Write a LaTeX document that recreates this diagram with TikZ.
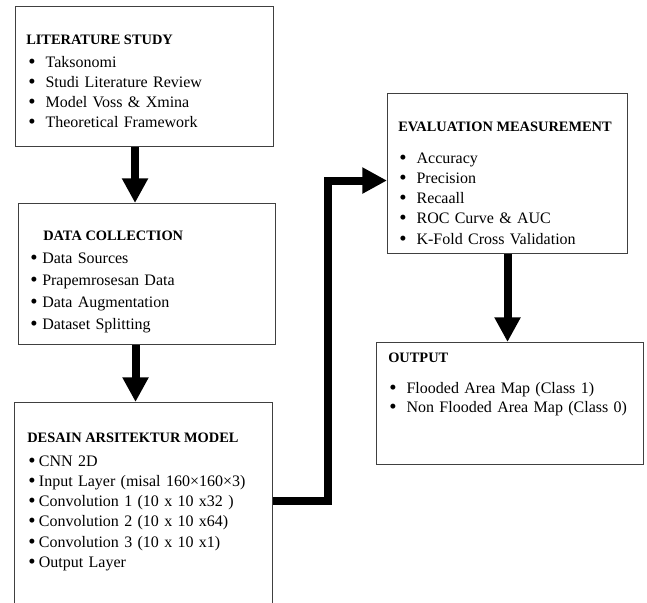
\documentclass[tikz,border=0pt]{standalone}
\usepackage{fontspec}
\setmainfont{Liberation Serif}
\usepackage{tikz}
\usetikzlibrary{positioning,calc,arrows.meta}
\newdimen\pxu \pxu=0.75pt
\newcommand{\bul}[1][13pt]{\makebox[#1][l]{\raisebox{-0.8pt}{\scalebox{1.3}{\textbullet}}}}

\begin{document}
\begin{tikzpicture}[x=0.75pt, y=-0.75pt, >={Triangle[length=18.5pt,width=18.5pt]},
  box/.style={draw=black!75, line width=0.8pt, rectangle, anchor=north west, inner sep=0pt},
  ttl/.style={anchor=base west, inner sep=0pt, font=\fontsize{10.8}{13}\selectfont\bfseries},
  lst/.style={anchor=base west, inner sep=0pt, text width=220pt, align=left, font=\fontsize{12}{15.2}\selectfont},
  flow/.style={->, line width=6pt, line join=miter}]
  \useasboundingbox (0,0) rectangle (647,603);
  \clip (0,0) rectangle (647,603);

  % frames
  \node[box, minimum width=258\pxu, minimum height=140\pxu] (litbox) at (15,6) {};
  \node[box, minimum width=257\pxu, minimum height=141\pxu] (databox) at (18,203) {};
  \node[box, minimum width=258\pxu, minimum height=212\pxu] (archbox) at (14,402) {};
  \node[box, minimum width=240\pxu, minimum height=160\pxu] (evalbox) at (387,93) {};
  \node[box, minimum width=267\pxu, minimum height=122\pxu] (outbox) at (376,342) {};

  % texts
  \node[ttl] (littitle) at ($(litbox.north west)+(11,39)$) {LITERATURE STUDY};
  \node[lst] (littext) at ($(litbox.north west)+(13,61)$) {\bul Taksonomi\\ \bul Studi Literature Review\\ \bul Model Voss \& Xmina\\ \bul Theoretical Framework};

  \node[ttl] (datatitle) at ($(databox.north west)+(25,37)$) {DATA COLLECTION};
  \node[lst, font=\fontsize{12}{16.5}\selectfont] (datatext) at ($(databox.north west)+(12,60)$) {\bul[9pt]Data Sources\\ \bul[9pt]Prapemrosesan Data\\ \bul[9pt]Data Augmentation\\ \bul[9pt]Dataset Splitting};

  \node[ttl] (archtitle) at ($(archbox.north west)+(13,40)$) {DESAIN ARSITEKTUR MODEL};
  \node[lst] (archtext) at ($(archbox.north west)+(14,64)$) {\bul[8pt]CNN 2D\\ \bul[8pt]Input Layer (misal 160×160×3)\\ \bul[8pt]Convolution 1 (10 x 10 x32 )\\ \bul[8pt]Convolution 2 (10 x 10 x64)\\ \bul[8pt]Convolution 3 (10 x 10 x1)\\ \bul[8pt]Output Layer};

  \node[ttl] (evaltitle) at ($(evalbox.north west)+(11,38)$) {EVALUATION MEASUREMENT};
  \node[lst] (evaltext) at ($(evalbox.north west)+(12,70)$) {\bul Accuracy\\ \bul Precision\\ \bul Recaall\\ \bul ROC Curve \& AUC\\ \bul K-Fold Cross Validation};

  \node[ttl] (outtitle) at ($(outbox.north west)+(12,20)$) {OUTPUT};
  \node[lst, font=\fontsize{12}{14.6}\selectfont] (outtext) at ($(outbox.north west)+(13,51)$) {\bul Flooded Area Map (Class 1)\\ \bul Non Flooded Area Map (Class 0)};

  % arrows
  \coordinate (a1) at ($(litbox.south)+(-9.5,0)$);
  \draw[flow] (a1) -- (a1 |- databox.north);
  \coordinate (a2) at ($(databox.south)+(-11.5,0)$);
  \draw[flow] (a2) -- (a2 |- archbox.north);
  \draw[flow] ($(archbox.north east)+(0,99)$) -| ($(evalbox.west)+(-59,7)$) -- ($(evalbox.west)+(0,7)$);
  \draw[flow] (evalbox.south) -- (evalbox.south |- outbox.north);
\end{tikzpicture}
\end{document}
